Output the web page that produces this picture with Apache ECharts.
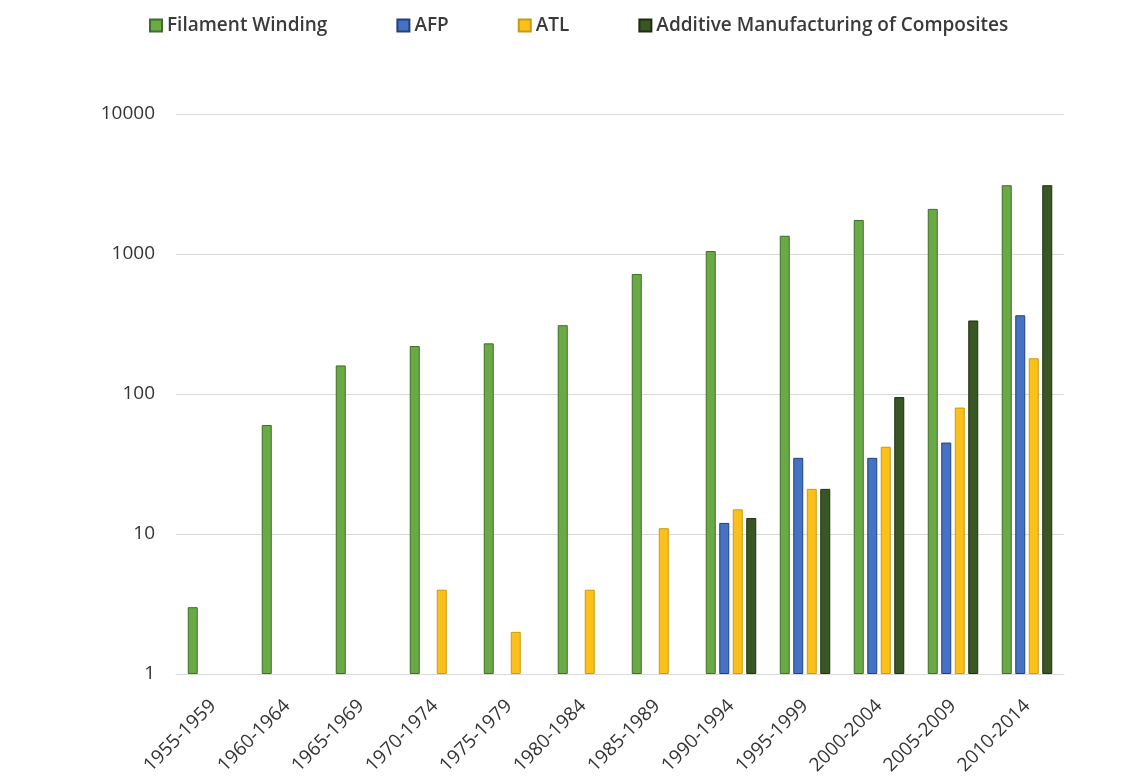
<!DOCTYPE html>
<html>
<head>
<meta charset="utf-8">
<script src="https://cdn.jsdelivr.net/npm/echarts@6/dist/echarts.min.js"></script>
<style>
  html, body { margin: 0; padding: 0; background: #fff; }
  #chart { width: 1143px; height: 778px; }
</style>
</head>
<body>
<div id="chart"></div>
<script>
const periods = ["1955-1959", "1960-1964", "1965-1969", "1970-1974", "1975-1979", "1980-1984",
  "1985-1989", "1990-1994", "1995-1999", "2000-2004", "2005-2009", "2010-2014"];
const filamentWinding = [3, 60, 160, 220, 230, 310, 720, 1050, 1350, 1750, 2100, 3100];
const afp = [null, null, null, null, null, null, null, 12, 35, 35, 45, 365];
const atl = [null, null, null, 4, 2, 4, 11, 15, 21, 42, 80, 180];
const additive = [null, null, null, null, null, null, null, 13, 21, 95, 335, 3100];
const yTicks = [1, 10, 100, 1000, 10000];

const font = "'Open Sans', 'Noto Sans', sans-serif";

function barSeries(name, data, color, border) {
  return {
    name,
    type: "bar",
    data,
    barWidth: 10,
    barGap: "35%",
    itemStyle: { color, borderColor: border, borderWidth: 1 },
  };
}

const chart = echarts.init(document.getElementById("chart"));
chart.setOption({
  animation: false,
  legend: {
    top: 11,
    left: 144,
    itemWidth: 12,
    itemHeight: 12,
    itemGap: 69,
    icon: "rect",
    textStyle: { fontFamily: font, fontSize: 19, fontWeight: 600, color: "#3a3a3a" },
  },
  grid: { left: 176, right: 79, top: 114, bottom: 104 },
  xAxis: {
    type: "category",
    data: periods,
    axisTick: { show: false },
    axisLine: { lineStyle: { color: "#d9d9d9", width: 1 } },
    axisLabel: {
      rotate: 45, margin: 29,
      fontFamily: font, fontSize: 19, color: "#333", interval: 0,
    },
  },
  yAxis: {
    type: "log",
    logBase: 10,
    min: yTicks[0],
    max: yTicks[yTicks.length - 1],
    axisLine: { show: false },
    axisTick: { show: false },
    splitLine: { lineStyle: { color: "#d9d9d9", width: 1 } },
    axisLabel: { margin: 21, fontFamily: font, fontSize: 19, color: "#333", formatter: (v) => String(v) },
  },
  series: [
    barSeries("Filament Winding", filamentWinding, "#6aaa45", "#3f6e28"),
    barSeries("AFP", afp, "#4472c4", "#23407a"),
    barSeries("ATL", atl, "#fcc01a", "#c89a10"),
    barSeries("Additive Manufacturing of Composites", additive, "#385723", "#1c2e11"),
  ],
});
</script>
</body>
</html>
